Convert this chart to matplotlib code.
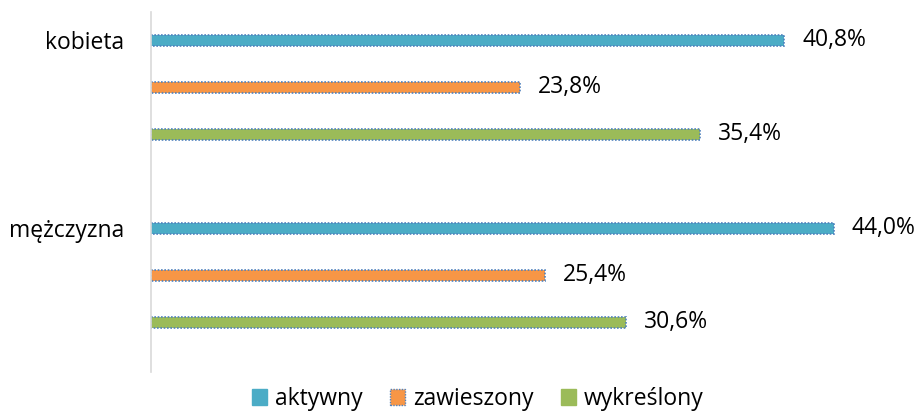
import matplotlib
matplotlib.use("Agg")
import matplotlib.pyplot as plt
from matplotlib.patches import Patch

categories = ["kobieta", "mężczyzna"]
series = ["aktywny", "zawieszony", "wykreślony"]
values = {
    "aktywny": [40.8, 44.0],
    "zawieszony": [23.8, 25.4],
    "wykreślony": [35.4, 30.6],
}
colors = {"aktywny": "#4BACC6", "zawieszony": "#F79646", "wykreślony": "#9BBB59"}

plt.rcParams['font.family'] = ['Open Sans', 'DejaVu Sans']
FS = 16.5

fig = plt.figure(figsize=(9.16, 4.12), dpi=100)
ax = fig.add_axes([151/916, 1-372/412, 1-151/916, 360/412])

bar_h = 0.24
for ci, cat in enumerate(categories):
    for si, s in enumerate(series):
        y = ci * 4 + si
        v = values[s][ci]
        ax.barh(y, v, height=bar_h, color=colors[s], edgecolor="#4F81BD",
                linewidth=1.2, linestyle=(0, (1, 1)))
        ax.annotate(f"{v:.1f}%".replace(".", ","), xy=(v, y), xytext=(13, 0),
                    textcoords="offset points", va="center", ha="left",
                    fontsize=FS, color="#000000")

ax.set_xlim(0, 49.3)
ax.set_ylim(7.06, -0.6)
ax.set_yticks([0, 4])
ax.set_yticklabels(categories, fontsize=FS)
ax.tick_params(axis="y", length=0, pad=19)
ax.set_xticks([])
for sp in ["top", "right", "bottom"]:
    ax.spines[sp].set_visible(False)
ax.spines["left"].set_color("#D9D9D9")
ax.spines["left"].set_linewidth(1.2)

handles = [Patch(facecolor=colors[s], edgecolor="#4F81BD" if s == "zawieszony" else colors[s],
                 linestyle=(0, (1, 1)) if s == "zawieszony" else "-", linewidth=1.0, label=s)
           for s in series]
fig.legend(handles=handles, loc="center", bbox_to_anchor=(477.5/916, 1-399/412), ncol=3,
           frameon=False, fontsize=FS, handlelength=0.65, handleheight=0.65,
           handletextpad=0.35, columnspacing=1.2, borderpad=0)

fig.savefig("out.png", dpi=100)
